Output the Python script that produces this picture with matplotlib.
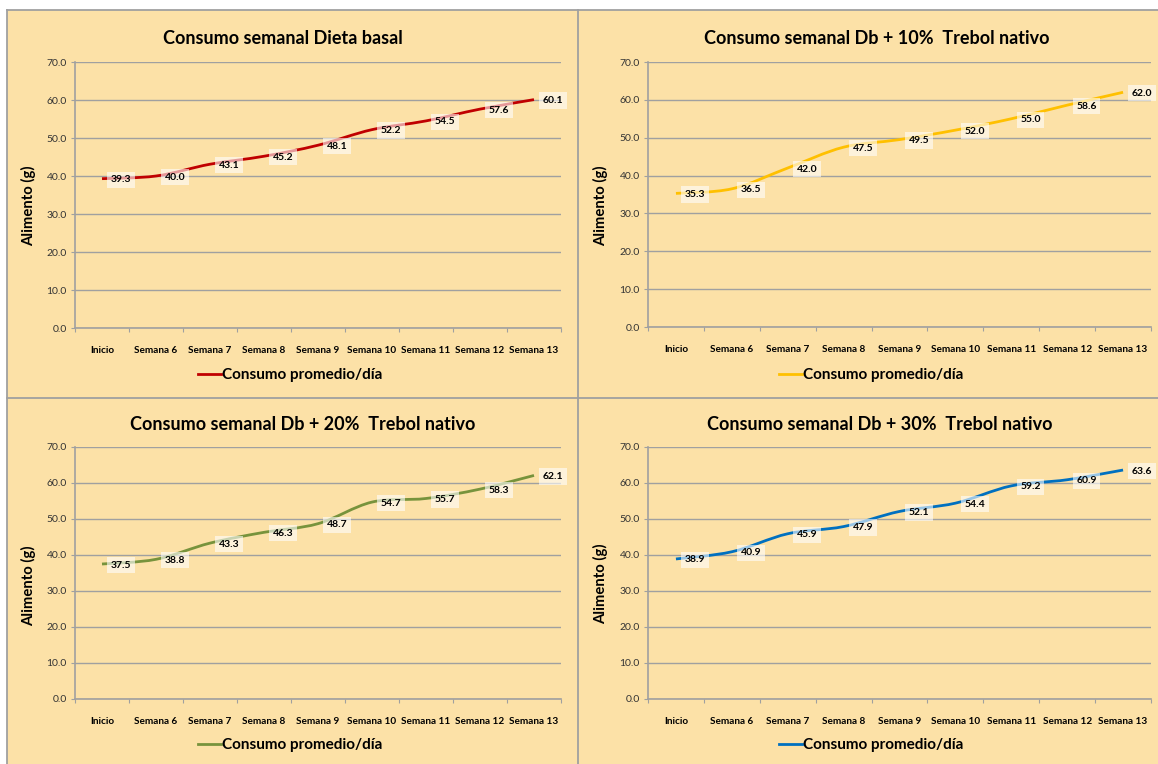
import numpy as np
import matplotlib
matplotlib.use("Agg")
import matplotlib.pyplot as plt
from matplotlib.path import Path
from matplotlib.patches import PathPatch, Rectangle
from matplotlib.lines import Line2D

plt.rcParams['font.family'] = ['Lato', 'DejaVu Sans']

W, H = 1158, 764

semanas = ["Inicio", "Semana 6", "Semana 7", "Semana 8", "Semana 9",
           "Semana 10", "Semana 11", "Semana 12", "Semana 13"]

dieta_basal = [39.3, 40.0, 43.1, 45.2, 48.1, 52.2, 54.5, 57.6, 60.1]
trebol_10 = [35.3, 36.5, 42.0, 47.5, 49.5, 52.0, 55.0, 58.6, 62.0]
trebol_20 = [37.5, 38.8, 43.3, 46.3, 48.7, 54.7, 55.7, 58.3, 62.1]
trebol_30 = [38.9, 40.9, 45.9, 47.9, 52.1, 54.4, 59.2, 60.9, 63.6]

titulos = ["Consumo semanal Dieta basal",
           "Consumo semanal Db + 10%  Trebol nativo",
           "Consumo semanal Db + 20%  Trebol nativo",
           "Consumo semanal Db + 30%  Trebol nativo"]

colores = ["#C00000", "#FFC000", "#77933C", "#0070C0"]
fondo = "#FCE1A7"
gris = "#A0A0A0"


def fx(x):
    return x / W


def fy(y):
    return 1 - y / H


def curva_suave(xs, ys):
    # tramos Bezier tipo Catmull-Rom, como la linea suavizada de Excel
    verts = [(xs[0], ys[0])]
    codes = [Path.MOVETO]
    n = len(xs)
    for i in range(n - 1):
        a = i - 1 if i > 0 else i
        d = i + 2 if i + 2 < n else i + 1
        c1 = (xs[i] + (xs[i + 1] - xs[a]) / 6, ys[i] + (ys[i + 1] - ys[a]) / 6)
        c2 = (xs[i + 1] - (xs[d] - xs[i]) / 6, ys[i + 1] - (ys[d] - ys[i]) / 6)
        verts += [c1, c2, (xs[i + 1], ys[i + 1])]
        codes += [Path.CURVE4] * 3
    return Path(verts, codes)


fig = plt.figure(figsize=(W / 100, H / 100), dpi=100, facecolor="white")

# fondo y divisiones de los cuatro paneles
fig.add_artist(Rectangle((fx(7), 0), 1, fy(10), transform=fig.transFigure,
                         facecolor=fondo, edgecolor="none", zorder=-10))
for seg in [((7, 7), (10, H)), ((7, W), (10, 10)), ((577.5, 577.5), (10, H)), ((7, W), (398, 398))]:
    fig.add_artist(Line2D([fx(v) for v in seg[0]], [fy(v) for v in seg[1]],
                          color=gris, lw=1.3, transform=fig.transFigure, zorder=-5))

# (izq, der, arriba, abajo) del area de trazado, centro del titulo, leyenda y etiqueta y
paneles = [
    dict(area=(75, 561, 62, 328), titulo=(283, 38), leyenda=(290, 375), ylab=(29, 206)),
    dict(area=(648, 1151, 62, 327), titulo=(877, 38), leyenda=(871, 375), ylab=(601, 206)),
    dict(area=(75, 561, 447, 699), titulo=(303, 425), leyenda=(290, 745), ylab=(29, 586)),
    dict(area=(648, 1151, 447, 699), titulo=(880, 425), leyenda=(871, 745), ylab=(601, 584)),
]
series = [dieta_basal, trebol_10, trebol_20, trebol_30]

x = np.arange(len(semanas))

for p, valores, titulo, color in zip(paneles, series, titulos, colores):
    l, r, t, b = p["area"]
    ax = fig.add_axes([fx(l), fy(b), fx(r) - fx(l), fy(t) - fy(b)])
    ax.set_facecolor("none")
    ax.set_xlim(-0.5, len(semanas) - 0.5)
    ax.set_ylim(0, 70)
    ax.set_yticks(np.arange(0, 71, 10))
    ax.set_yticklabels([f"{v:.1f}" for v in np.arange(0, 71, 10)], fontsize=7.5, color="#333333")
    ax.yaxis.grid(True, color=gris, lw=1.0)
    ax.set_axisbelow(True)
    for s in ["top", "right"]:
        ax.spines[s].set_visible(False)
    for s in ["left", "bottom"]:
        ax.spines[s].set_color(gris)
        ax.spines[s].set_linewidth(1.2)
    ax.tick_params(axis="y", length=3, color=gris, pad=3)
    ax.set_xticks(np.arange(-0.5, len(semanas), 1))
    ax.set_xticklabels([])
    ax.tick_params(axis="x", which="major", length=3, color=gris)
    ax.set_xticks(x, minor=True)
    ax.set_xticklabels(semanas, minor=True, fontsize=7.2, fontweight="bold")
    ax.tick_params(axis="x", which="minor", length=0, pad=13)

    ax.add_patch(PathPatch(curva_suave(x, valores), facecolor="none",
                           edgecolor=color, lw=2.0, capstyle="butt", zorder=3))

    for xi, v in zip(x, valores):
        ax.annotate(f"{v:.1f}", (xi, v), xytext=(9, -1), textcoords="offset pixels",
                    ha="left", va="center", fontsize=7.5, fontweight="bold",
                    annotation_clip=False, zorder=4,
                    bbox=dict(boxstyle="square,pad=0.35", facecolor="white",
                              edgecolor="none", alpha=0.6))

    fig.text(fx(p["titulo"][0]), fy(p["titulo"][1]), titulo, ha="center", va="center",
             fontsize=13, fontweight="bold")
    fig.text(fx(p["ylab"][0]), fy(p["ylab"][1]), "Alimento (g)", rotation=90,
             ha="center", va="center", fontsize=10.7, fontweight="bold")
    fig.legend(handles=[Line2D([], [], color=color, lw=2.0)], labels=["Consumo promedio/día"],
               loc="center", bbox_to_anchor=(fx(p["leyenda"][0]), fy(p["leyenda"][1])),
               frameon=False, handlelength=1.5, handletextpad=0.1,
               prop=dict(size=11, weight="bold"))

fig.savefig("out.png", dpi=100, facecolor="white")
